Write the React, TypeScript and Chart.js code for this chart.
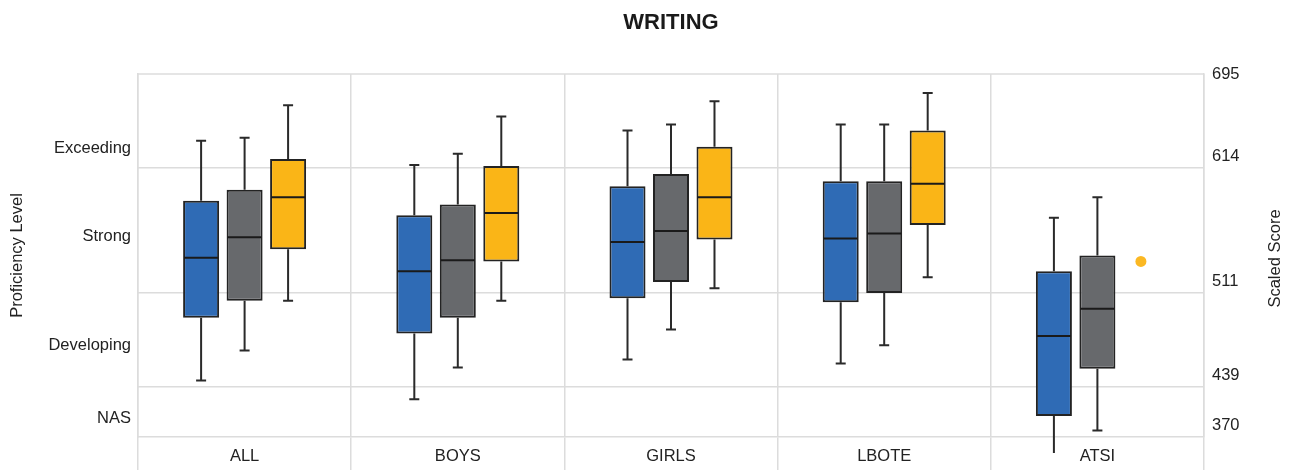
import React, { useEffect, useRef } from 'react';
import { Chart, registerables, LinearScale } from 'chart.js';

Chart.register(...registerables);

// ---------- data ----------
const categories = ['ALL', 'BOYS', 'GIRLS', 'LBOTE', 'ATSI'];

const schoolMin = [444, 422, 460, 457, 348];
const schoolQ1 = [492, 480, 507, 504, 399];
const schoolMedian = [540, 529, 553, 556, 478];
const schoolQ3 = [587, 575, 599, 603, 529];
const schoolMax = [641, 617, 651, 657, 573];

const similarMin = [467, 454, 483, 471, 379];
const similarQ1 = [505, 492, 520, 511, 453];
const similarMedian = [557, 538, 562, 560, 499];
const similarQ3 = [596, 584, 609, 603, 542];
const similarMax = [644, 628, 657, 657, 590];

const stateMin = [505, 505, 515, 524, null];
const stateQ1 = [547, 537, 555, 567, null];
const stateMedian = [590, 577, 590, 601, null];
const stateQ3 = [623, 616, 635, 651, null];
const stateMax = [676, 665, 680, 688, null];
const stateOutliers = [null, null, null, null, 537];

const scoreTicks = [370, 439, 511, 614, 695];
const bandBoundaries = [439, 511, 614];
const levelLabels = ['NAS', 'Developing', 'Strong', 'Exceeding'];
const levelTickValues = [396, 471, 558, 633];

// ---------- piecewise score axis (scale configuration) ----------
const SCALE_MIN = 370;
const SCALE_MAX = 707;
const scoreBreaks = [370, 439, 511, 614, 695, 707];
const breakFractions = [0, 0.1377, 0.3967, 0.741, 0.9669, 1];

function scoreToDecimal(v: any): number {
  if (v === null || v === undefined || isNaN(v)) return NaN;
  let i = 0;
  while (i < scoreBreaks.length - 2 && v > scoreBreaks[i + 1]) i++;
  const v0 = scoreBreaks[i], v1 = scoreBreaks[i + 1];
  const f0 = breakFractions[i], f1 = breakFractions[i + 1];
  return f0 + ((v - v0) / (v1 - v0)) * (f1 - f0);
}
function decimalToScore(d: number): number {
  let i = 0;
  while (i < breakFractions.length - 2 && d > breakFractions[i + 1]) i++;
  const v0 = scoreBreaks[i], v1 = scoreBreaks[i + 1];
  const f0 = breakFractions[i], f1 = breakFractions[i + 1];
  return v0 + ((d - f0) / (f1 - f0)) * (v1 - v0);
}

class PiecewiseScale extends (LinearScale as any) {
  static id = 'piecewise';
  getPixelForValue(value: any) {
    return (this as any).getPixelForDecimal(scoreToDecimal(value));
  }
  getValueForPixel(pixel: number) {
    return decimalToScore((this as any).getDecimalForPixel(pixel));
  }
}
Chart.register(PiecewiseScale as any);

// ---------- styles ----------
const GRID = '#dcdcdc';
const TEXT = '#222222';
const FONT = "'Liberation Sans', Arial, Helvetica, sans-serif";

const seriesDefs = [
  { label: 'School', min: schoolMin, q1: schoolQ1, median: schoolMedian, q3: schoolQ3, max: schoolMax, outliers: [null, null, null, null, null], color: '#2f6bb5' },
  { label: 'Similar schools', min: similarMin, q1: similarQ1, median: similarMedian, q3: similarQ3, max: similarMax, outliers: [null, null, null, null, null], color: '#67696c' },
  { label: 'State', min: stateMin, q1: stateQ1, median: stateMedian, q3: stateQ3, max: stateMax, outliers: stateOutliers, color: '#fab517' },
];

const boxPlugin = {
  id: 'boxWhiskers',
  beforeDatasetsDraw(chart: any) {
    const { ctx, chartArea } = chart;
    const y = chart.scales.y;
    ctx.save();
    // top frame line
    ctx.strokeStyle = GRID;
    ctx.lineWidth = 1.5;
    ctx.beginPath();
    ctx.moveTo(chartArea.left, chartArea.top);
    ctx.lineTo(chartArea.right, chartArea.top);
    ctx.stroke();
    // whiskers
    ctx.strokeStyle = '#2a2a2a';
    ctx.lineWidth = 2;
    seriesDefs.forEach((s, di) => {
      const meta = chart.getDatasetMeta(di);
      meta.data.forEach((el: any, i: number) => {
        if (s.q1[i] == null) return;
        const x = el.x;
        const yMin = y.getPixelForValue(s.min[i]);
        const yQ1 = y.getPixelForValue(s.q1[i]);
        const yQ3 = y.getPixelForValue(s.q3[i]);
        const yMax = y.getPixelForValue(s.max[i]);
        ctx.beginPath();
        ctx.moveTo(x, yQ3);
        ctx.lineTo(x, yMax);
        ctx.moveTo(x, yQ1);
        ctx.lineTo(x, yMin);
        ctx.stroke();
        const cap = 5;
        ctx.beginPath();
        if (yMax >= chartArea.top) {
          ctx.moveTo(x - cap, yMax);
          ctx.lineTo(x + cap, yMax);
        }
        if (yMin <= chartArea.bottom) {
          ctx.moveTo(x - cap, yMin);
          ctx.lineTo(x + cap, yMin);
        }
        ctx.stroke();
      });
    });
    ctx.restore();
  },
  afterDatasetsDraw(chart: any) {
    const { ctx } = chart;
    const y = chart.scales.y;
    const x = chart.scales.x;
    ctx.save();
    ctx.strokeStyle = '#1a1a1a';
    ctx.lineWidth = 2;
    seriesDefs.forEach((s, di) => {
      const meta = chart.getDatasetMeta(di);
      const ref = meta.data.find((e: any, k: number) => s.q1[k] != null);
      const refIdx = meta.data.indexOf(ref);
      const offset = ref ? ref.x - x.getPixelForValue(refIdx) : 0;
      meta.data.forEach((el: any, i: number) => {
        if (s.median[i] != null) {
          const ym = y.getPixelForValue(s.median[i]);
          const w = el.width / 2;
          ctx.beginPath();
          ctx.moveTo(el.x - w + 1, ym);
          ctx.lineTo(el.x + w - 1, ym);
          ctx.stroke();
        }
        if (s.outliers[i] != null) {
          const px = isFinite(el.x) ? el.x : x.getPixelForValue(i) + offset;
          const py = y.getPixelForValue(s.outliers[i]);
          ctx.fillStyle = '#fbb823';
          ctx.beginPath();
          ctx.arc(px, py, 5.5, 0, Math.PI * 2);
          ctx.fill();
        }
      });
    });
    ctx.restore();
  },
  afterDraw(chart: any) {
    const { ctx, chartArea } = chart;
    ctx.save();
    ctx.translate(chart.width - 20, (chartArea.top + chartArea.bottom) / 2 + 3);
    ctx.rotate(-Math.PI / 2);
    ctx.textAlign = 'center';
    ctx.textBaseline = 'middle';
    ctx.fillStyle = TEXT;
    ctx.font = `16.5px ${FONT}`;
    ctx.fillText('Scaled Score', 0, 0);
    ctx.restore();
  },
};

export default function App() {
  const canvasRef = useRef<HTMLCanvasElement | null>(null);

  useEffect(() => {
    if (!canvasRef.current) return;
    Chart.defaults.font.family = FONT;
    Chart.defaults.color = TEXT;

    const datasets = seriesDefs.map((s) => ({
      label: s.label,
      data: categories.map((_, i) => (s.q1[i] == null ? null : [s.q1[i], s.q3[i]])),
      backgroundColor: s.color,
      borderColor: '#232323',
      borderWidth: 2,
      borderSkipped: false,
      categoryPercentage: 0.612,
      barPercentage: 0.828,
      yAxisID: 'y',
    }));

    const chart = new Chart(canvasRef.current, {
      type: 'bar',
      data: { labels: categories, datasets: datasets as any },
      plugins: [boxPlugin as any],
      options: {
        animation: false,
        responsive: true,
        maintainAspectRatio: false,
        events: [],
        layout: { padding: 0 },
        plugins: {
          legend: { display: false },
          tooltip: { enabled: false },
          title: {
            display: true,
            text: 'WRITING',
            color: '#1a1a1a',
            fullSize: false,
            font: { size: 22, weight: 'bold', family: FONT },
            padding: { top: 10, bottom: 37.6 },
          },
        },
        scales: {
          x: {
            type: 'category',
            offset: true,
            grid: {
              display: true,
              offset: true,
              color: GRID,
              lineWidth: 1.5,
              drawTicks: true,
              tickLength: 33,
              tickColor: GRID,
            },
            border: { display: true, color: GRID, width: 1.5 },
            ticks: {
              padding: -23,
              maxRotation: 0,
              autoSkip: false,
              color: TEXT,
              font: { size: 16.5 },
            },
            afterFit: (s: any) => {
              s.height = 33;
            },
          },
          yL: {
            type: 'piecewise' as any,
            position: 'left',
            min: SCALE_MIN,
            max: SCALE_MAX,
            grid: { display: false, drawTicks: false },
            border: { display: true, color: GRID, width: 1.5 },
            afterBuildTicks: (s: any) => {
              s.ticks = levelTickValues.map((v) => ({ value: v }));
            },
            ticks: {
              padding: 7,
              autoSkip: false,
              color: TEXT,
              font: { size: 16.5 },
              callback: (_v: any, i: number) => levelLabels[i],
            },
            title: {
              display: true,
              text: 'Proficiency Level',
              color: TEXT,
              font: { size: 16.5 },
              padding: { top: 8, bottom: 0 },
            },
            afterFit: (s: any) => {
              s.width = 138;
            },
          } as any,
          y: {
            type: 'piecewise' as any,
            position: 'right',
            min: SCALE_MIN,
            max: SCALE_MAX,
            grid: {
              display: true,
              drawTicks: false,
              lineWidth: 1.5,
              color: (c: any) =>
                c.tick && bandBoundaries.includes(c.tick.value) ? GRID : 'rgba(0,0,0,0)',
            },
            border: { display: true, color: GRID, width: 1.5 },
            afterBuildTicks: (s: any) => {
              s.ticks = scoreTicks.map((v) => ({ value: v }));
            },
            ticks: {
              padding: 8,
              labelOffset: -12,
              autoSkip: false,
              color: TEXT,
              font: { size: 16.5 },
              callback: (v: any) => String(v),
            },
            afterFit: (s: any) => {
              s.width = 91;
            },
          } as any,
        },
      },
    });

    return () => chart.destroy();
  }, []);

  return (
    <div style={{ position: 'fixed', left: 0, top: 0, width: '1295px', height: '470px', background: '#ffffff' }}>
      <canvas ref={canvasRef} />
    </div>
  );
}
